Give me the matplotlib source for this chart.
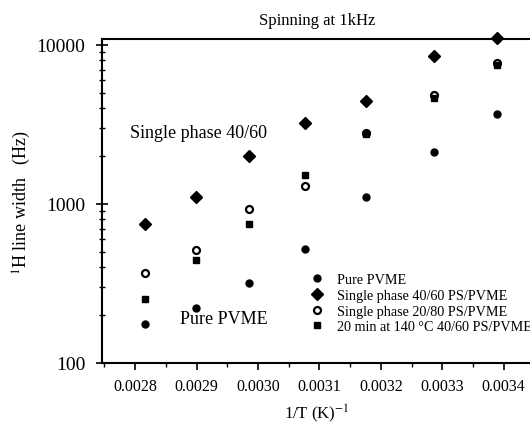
import matplotlib
matplotlib.use("Agg")
import matplotlib.pyplot as plt
from matplotlib.ticker import LogLocator, MultipleLocator, NullFormatter

plt.rcParams['font.family'] = ['Liberation Serif', 'DejaVu Serif']
plt.rcParams['mathtext.fontset'] = 'stix'

inv_T = [0.002816, 0.002899, 0.002985, 0.003077, 0.003175, 0.003287, 0.003389]
pure_pvme = [175, 222, 317, 522, 1105, 2130, 3670]
single_4060 = [743, 1105, 2005, 3230, 4450, 8510, 11000]
single_2080 = [369, 515, 927, 1294, 2800, 4840, 7730]
annealed_4060 = [252, 443, 743, 1528, 2735, 4670, 7510]

labels = ["Pure PVME", "Single phase 40/60 PS/PVME",
          "Single phase 20/80 PS/PVME", "20 min at 140 \u00b0C 40/60 PS/PVME"]
xticks = [0.0028, 0.0029, 0.0030, 0.0031, 0.0032, 0.0033, 0.0034]

fig = plt.figure(figsize=(5.30, 4.31), dpi=100)
# axes placed in pixels: left 102, right ~532, top 40, bottom 364
ax = fig.add_axes([102 / 530, (431 - 364) / 431, 430 / 530, 324 / 431])

ax.plot(inv_T, pure_pvme, 'o', color='black', ms=5, label=labels[0], clip_on=False)
ax.plot(inv_T, single_4060, 'D', color='black', ms=6, label=labels[1], clip_on=False)
ax.plot(inv_T, single_2080, 'o', mfc='white', mec='black', mew=1.6, ms=5,
        label=labels[2], clip_on=False)
ax.plot(inv_T, annealed_4060, 's', color='black', ms=5, label=labels[3], clip_on=False)

ax.set_yscale('log')
ax.set_ylim(100, 10900)
ax.set_xlim(0.002746, 0.003446)

ax.set_xticks(xticks)
ax.set_xticklabels(["%.4f" % v for v in xticks])
ax.xaxis.set_minor_locator(MultipleLocator(0.00005))
ax.yaxis.set_minor_locator(LogLocator(base=10, subs=range(2, 10)))
ax.yaxis.set_minor_formatter(NullFormatter())
ax.set_yticks([100, 1000, 10000])
ax.set_yticklabels(["100", "1000", "10000"])

ax.tick_params(axis='x', which='major', direction='out', length=5, width=1.2,
               labelsize=11.5, pad=6)
ax.tick_params(axis='x', which='minor', direction='out', length=3, width=1)
ax.tick_params(axis='y', which='major', direction='inout', length=8, width=1.2,
               labelsize=14, pad=8)
ax.tick_params(axis='y', which='minor', direction='inout', length=4, width=1)
ax.tick_params(top=False, right=False)

for s in ['left', 'bottom', 'top']:
    ax.spines[s].set_linewidth(1.5)
ax.spines['right'].set_visible(False)

ax.set_title("Spinning at 1kHz", fontsize=12, pad=11)
ax.set_xlabel("1/T (K)$^{-1}$", fontsize=12, labelpad=5)
ax.set_ylabel("$^{1}$H line width   (Hz)", fontsize=13)
ax.yaxis.set_label_coords(-0.16, 0.5)

ax.text(0.002792, 2800, "Single phase 40/60", fontsize=13, ha='left', va='center',
        family='Liberation Serif')
ax.text(0.002873, 190, "Pure PVME", fontsize=13, ha='left', va='center',
        family='Liberation Serif')

leg = ax.legend(loc='upper left', bbox_to_anchor=(0.483, 0.278), frameon=False,
                fontsize=10.2, handlelength=1.0, handletextpad=0.9,
                labelspacing=0.2, borderpad=0, borderaxespad=0)

fig.savefig("out.png", dpi=100)
